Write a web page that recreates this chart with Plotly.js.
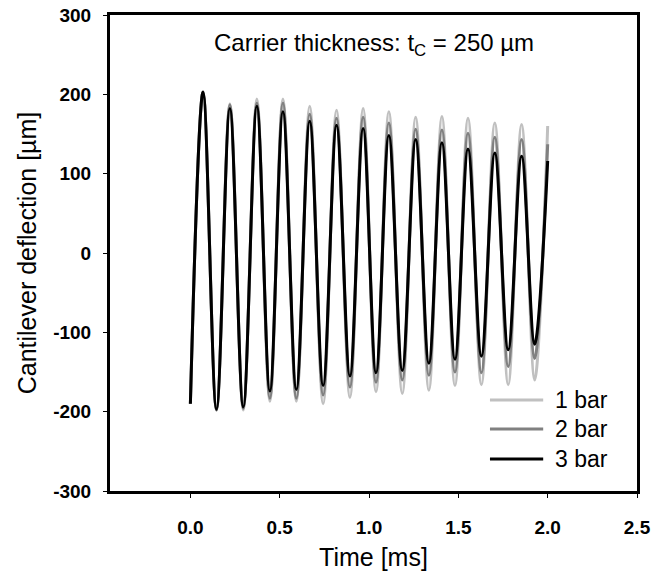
<!DOCTYPE html>
<html>
<head>
<meta charset="utf-8">
<script src="https://cdn.plot.ly/plotly-3.0.1.min.js"></script>
<style>html,body{margin:0;padding:0;background:#fff;}#chart{width:670px;height:574px;}</style>
</head>
<body>
<div id="chart"></div>
<script>
// Time [ms] of start, successive extrema (peak / trough) and end
const timeMs = [0, 0.071, 0.146, 0.221, 0.296, 0.372, 0.445, 0.518, 0.593, 0.668, 0.743, 0.818, 0.893, 0.967, 1.039, 1.111, 1.186, 1.261, 1.335, 1.408, 1.481, 1.554, 1.629, 1.704, 1.779, 1.854, 1.927, 2.0];

// Cantilever deflection [µm]
const bar1 = [-190, 203, -198, 188, -198, 194, -187, 194, -187, 185, -190, 180, -182, 182, -175, 178, -177, 171, -173, 172, -167, 170, -166, 164, -166, 162, -160, 160];
const bar2 = [-190, 203, -198, 187, -196, 189, -183, 189, -183, 175, -179, 170, -169, 171, -163, 164, -160, 156, -154, 155, -150, 151, -151, 146, -143, 143, -133, 137];
const bar3 = [-190, 203, -197, 182, -194, 185, -174, 178, -172, 166, -167, 161, -155, 157, -151, 148, -148, 143, -139, 139, -134, 131, -130, 126, -122, 122, -115, 116];

const seriesNames = ['1 bar', '2 bar', '3 bar'];
const seriesColors = ['#c0c0c0', '#808080', '#000000'];
const seriesValues = [bar1, bar2, bar3];

const xTicks = [0, 0.5, 1.0, 1.5, 2.0, 2.5];
const xTickLabels = ['0.0', '0.5', '1.0', '1.5', '2.0', '2.5'];
const yTicks = [-300, -200, -100, 0, 100, 200, 300];
const yTickLabels = ['-300', '-200', '-100', '0', '100', '200', '300'];

const FONT = 'Arial, "Liberation Sans", sans-serif';

const traces = seriesValues.map((vals, i) => ({
  x: timeMs,
  y: vals,
  type: 'scatter',
  mode: 'lines',
  name: seriesNames[i],
  line: {color: seriesColors[i], width: 3, shape: 'spline', smoothing: 1},
  hoverinfo: 'skip',
  showlegend: false
}));

// legend drawn as layout decoration (long sample lines as in the reference)
const legendRowsY = [0.191, 0.130, 0.067];
const legendShapes = seriesNames.map((n, i) => ({
  type: 'line', xref: 'paper', yref: 'paper',
  x0: 0.721, x1: 0.822, y0: legendRowsY[i], y1: legendRowsY[i],
  line: {color: seriesColors[i], width: 3}
}));
const legendTexts = seriesNames.map((n, i) => ({
  xref: 'paper', yref: 'paper', x: 0.841, y: legendRowsY[i],
  xanchor: 'left', yanchor: 'middle', showarrow: false,
  text: n, font: {family: FONT, size: 23, color: '#000'}
}));

const axisCommon = {
  showline: true,
  linecolor: '#000',
  linewidth: 3,
  mirror: true,
  ticks: 'outside',
  ticklen: 4,
  tickwidth: 1,
  tickcolor: '#000',
  showgrid: false,
  zeroline: false,
  tickfont: {family: FONT, size: 19, color: '#000', weight: 'bold'}
};

const layout = {
  width: 670,
  height: 574,
  margin: {l: 110, r: 33, t: 15, b: 83},
  paper_bgcolor: '#fff',
  plot_bgcolor: '#fff',
  font: {family: FONT, color: '#000'},
  showlegend: false,
  xaxis: Object.assign({}, axisCommon, {
    range: [-0.45, 2.5],
    tickmode: 'array',
    tickvals: xTicks,
    ticktext: xTickLabels,
    ticklabelstandoff: 13,
    title: {text: 'Time [ms]', font: {family: FONT, size: 25, color: '#000'}, standoff: 12}
  }),
  yaxis: Object.assign({}, axisCommon, {
    range: [-300, 300],
    tickmode: 'array',
    tickvals: yTicks,
    ticktext: yTickLabels,
    ticklabelstandoff: 8,
    title: {text: 'Cantilever deflection [µm]', font: {family: FONT, size: 25, color: '#000'}, standoff: 10}
  }),
  shapes: legendShapes,
  annotations: [{
    xref: 'paper', yref: 'paper', x: 0.5, y: 0.937,
    xanchor: 'center', yanchor: 'middle',
    text: 'Carrier thickness: t<sub>C</sub> = 250 µm',
    showarrow: false,
    font: {family: FONT, size: 24, color: '#000'}
  }].concat(legendTexts)
};

Plotly.newPlot('chart', traces, layout, {displayModeBar: false, staticPlot: true});
</script>
</body>
</html>
